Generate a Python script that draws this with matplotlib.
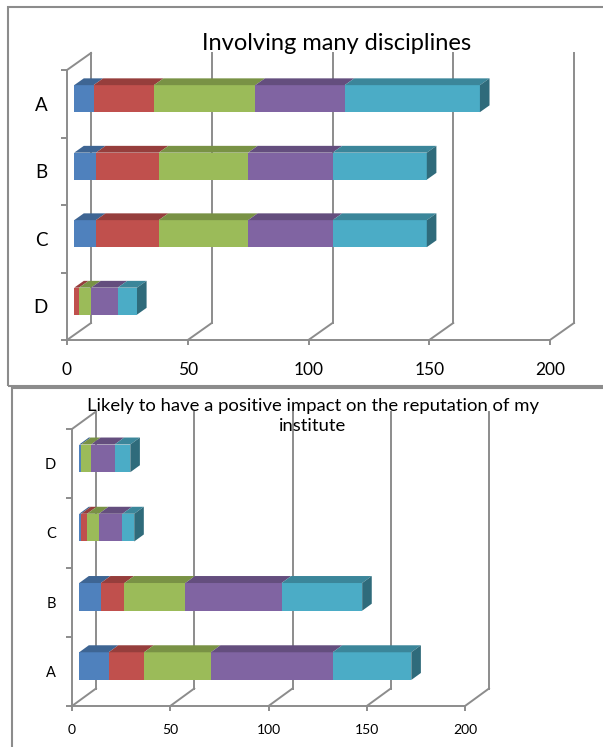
import numpy as np
import matplotlib
matplotlib.use("Agg")
from matplotlib import pyplot as plt
from matplotlib.patches import Polygon, Rectangle
from matplotlib.ticker import FixedLocator

W, H = 603, 747
plt.rcParams['font.family'] = ['Lato', 'DejaVu Sans']

# series colours (Office 2007 palette)
colors = ["#4F81BD", "#C0504D", "#9BBB59", "#8064A2", "#4BACC6"]
value_ticks = [0, 50, 100, 150, 200]

# "Involving many disciplines"
top_title = "Involving many disciplines"
top_cats = ["A", "B", "C", "D"]
top_s1 = [8, 9, 9, 0]
top_s2 = [25, 26, 26, 2]
top_s3 = [42, 37, 37, 5]
top_s4 = [37, 35, 35, 11]
top_s5 = [56, 39, 39, 8]

# "Likely to have a positive impact ..."
bot_title = "Likely to have a positive impact on the reputation of my\ninstitute"
bot_cats = ["A", "B", "C", "D"]
bot_s1 = [15, 11, 1, 1]
bot_s2 = [18, 12, 3, 0]
bot_s3 = [34, 31, 6, 5]
bot_s4 = [62, 49, 12, 12]
bot_s5 = [40, 41, 6, 8]

GRID = "#8c8c8c"


def shade(c, k):
    r, g, b = matplotlib.colors.to_rgb(c)
    return (r * k, g * k, b * k)


def bar3d_chart(fig, box, cats, series, top_down, dpx, tick_fs, cat_fs,
                xpad, ypad):
    # box = front plane in pixels: left, top, right, bottom
    x0, y0, x1, y1 = box
    ax = fig.add_axes([x0 / W, 1 - y1 / H, (x1 - x0) / W, (y1 - y0) / H])
    n = len(cats)
    vmax = value_ticks[-1]
    ax.set_xlim(0, vmax)
    ax.set_ylim(0, n)
    ddx = dpx[0] * vmax / (x1 - x0)
    ddy = dpx[1] * n / (y1 - y0)

    # back wall + floor grid
    for v in value_ticks:
        ax.plot([v + ddx, v + ddx], [ddy, n + ddy], color=GRID, lw=1.4,
                clip_on=False, zorder=1)
        ax.plot([v, v + ddx], [0, ddy], color=GRID, lw=1.4,
                clip_on=False, zorder=1)
    ax.plot([0, ddx], [n, n + ddy], color=GRID, lw=1.4, clip_on=False, zorder=1)

    centers = [(n - 1 - i + 0.5) if top_down else (i + 0.5) for i in range(n)]
    f0, f1 = 0.3, 0.7
    h = 0.4
    for i, c in enumerate(centers):
        vals = [s[i] for s in series]
        left = 0
        last = max(k for k, v in enumerate(vals) if v > 0)
        for k, v in enumerate(vals):
            if v <= 0:
                continue
            right = left + v
            b0 = c - h / 2 + f0 * ddy
            t0 = c + h / 2 + f0 * ddy
            t1 = c + h / 2 + f1 * ddy
            b1 = c - h / 2 + f1 * ddy
            ax.add_patch(Rectangle((left + f0 * ddx, b0), v, h,
                                   facecolor=colors[k], edgecolor="none",
                                   clip_on=False, zorder=3))
            ax.add_patch(Polygon([(left + f0 * ddx, t0), (right + f0 * ddx, t0),
                                  (right + f1 * ddx, t1), (left + f1 * ddx, t1)],
                                 closed=True, facecolor=shade(colors[k], 0.78),
                                 edgecolor="none", clip_on=False, zorder=3))
            if k == last:
                ax.add_patch(Polygon([(right + f0 * ddx, b0), (right + f1 * ddx, b1),
                                      (right + f1 * ddx, t1), (right + f0 * ddx, t0)],
                                     closed=True, facecolor=shade(colors[k], 0.62),
                                     edgecolor="none", clip_on=False, zorder=3))
            left = right

    for s in ["top", "right"]:
        ax.spines[s].set_visible(False)
    for s in ["left", "bottom"]:
        ax.spines[s].set_color(GRID)
        ax.spines[s].set_linewidth(1.4)
    ax.set_facecolor("none")
    ax.set_xticks(value_ticks)
    ax.set_xticklabels([str(v) for v in value_ticks])
    ax.set_yticks(centers)
    ax.set_yticklabels(cats)
    ax.yaxis.set_minor_locator(FixedLocator(np.arange(n + 1)))
    ax.tick_params(axis="x", length=3.6, width=1.4, color=GRID, labelsize=tick_fs,
                   pad=xpad)
    ax.tick_params(axis="y", which="major", length=0, labelsize=cat_fs, pad=ypad)
    ax.tick_params(axis="y", which="minor", length=4.5, width=1.4, color=GRID)
    return ax


fig = plt.figure(figsize=(W / 100, H / 100), dpi=100)

# chart frames
fig.add_artist(Rectangle((8 / W, 1 - 386 / H), 1.0, (386 - 7) / H,
                         transform=fig.transFigure, fill=False,
                         edgecolor=GRID, lw=1.5))
fig.add_artist(Rectangle((12 / W, -0.01), 1.0, 1 - 388 / H + 0.01,
                         transform=fig.transFigure, fill=False,
                         edgecolor=GRID, lw=1.5))

bar3d_chart(fig, (67, 70, 550, 340), top_cats,
            [top_s1, top_s2, top_s3, top_s4, top_s5], True, (24, 17),
            12.5, 13.5, 12.5, 14)
fig.text(337 / W, 1 - 43 / H, top_title, ha="center", va="center", fontsize=17)

bar3d_chart(fig, (72, 429, 465, 706), bot_cats,
            [bot_s1, bot_s2, bot_s3, bot_s4, bot_s5], False, (24, 17.5),
            10, 10.5, 9.5, 11.7)
fig.text(313 / W, 1 - 416 / H, bot_title, ha="center", va="center",
         fontsize=13.3, linespacing=1.3)

fig.savefig("out.png", dpi=100)
